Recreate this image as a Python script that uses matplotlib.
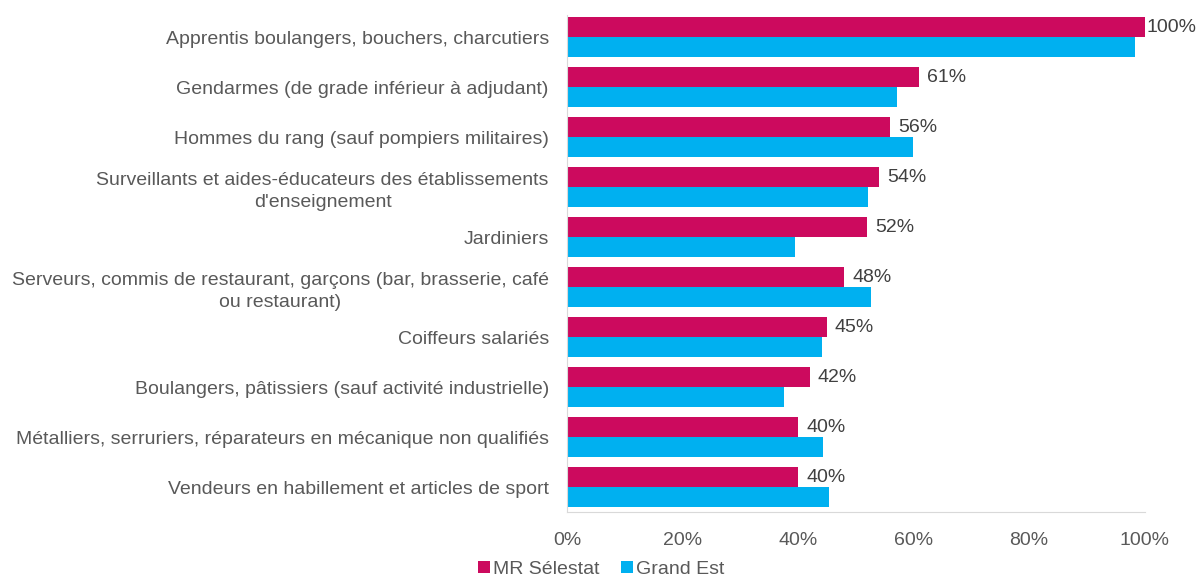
import matplotlib.pyplot as plt
import numpy as np
from matplotlib.ticker import PercentFormatter

plt.rcParams['font.family'] = ['Liberation Sans', 'DejaVu Sans']

categories = [
    "Apprentis boulangers, bouchers, charcutiers",
    "Gendarmes (de grade inférieur à adjudant)",
    "Hommes du rang (sauf pompiers militaires)",
    "Surveillants et aides-éducateurs des établissements\nd'enseignement",
    "Jardiniers",
    "Serveurs, commis de restaurant, garçons (bar, brasserie, café\nou restaurant)",
    "Coiffeurs salariés",
    "Boulangers, pâtissiers (sauf activité industrielle)",
    "Métalliers, serruriers, réparateurs en mécanique non qualifiés",
    "Vendeurs en habillement et articles de sport",
]
mr_selestat = [100, 61, 56, 54, 52, 48, 45, 42, 40, 40]
grand_est = [98.3, 57.1, 59.9, 52.2, 39.4, 52.6, 44.1, 37.5, 44.3, 45.3]
xticks = [0, 20, 40, 60, 80, 100]

c_mr = '#CC0A5E'
c_ge = '#00B0F0'
txt = '#595959'

fig = plt.figure(figsize=(11.96, 5.8), dpi=100)
ax = fig.add_axes([0.474, 0.117, 0.483, 0.857])

y = np.arange(len(categories))
h = 0.4
ax.barh(y - h / 2, mr_selestat, height=h, color=c_mr, label='MR Sélestat')
ax.barh(y + h / 2, grand_est, height=h, color=c_ge, label='Grand Est')

for yi, v in zip(y, mr_selestat):
    # label pushed back against the edge when it would overflow
    off = 0.25 if v >= 99 else 1.4
    ax.text(v + off, yi - h / 2, f"{v:.0f}%", va='center', ha='left',
            fontsize=14, color='#404040', clip_on=False)

ax.set_xlim(0, 100)
ax.set_ylim(len(categories) - 0.5, -0.44)
ax.set_xticks(xticks)
ax.xaxis.set_major_formatter(PercentFormatter(decimals=0))
ax.set_yticks(y)
ax.set_yticklabels(categories, fontsize=14, color=txt)
ax.tick_params(axis='x', labelsize=14, colors=txt, length=0, pad=14)
ax.tick_params(axis='y', length=0, pad=13)
for lbl in ax.get_yticklabels():
    lbl.set_horizontalalignment('right')
    lbl.set_multialignment('center')
    lbl.set_linespacing(1.35)

for s in ['top', 'right']:
    ax.spines[s].set_visible(False)
ax.spines['left'].set_color('#D9D9D9')
ax.spines['bottom'].set_color('#D9D9D9')

fig.legend(loc='lower left', bbox_to_anchor=(0.385, -0.027), ncol=2, frameon=False,
           fontsize=14, handlelength=0.6, handleheight=0.6, handletextpad=0.15,
           columnspacing=1.15, labelcolor=txt)

fig.savefig('out.png', dpi=100)
